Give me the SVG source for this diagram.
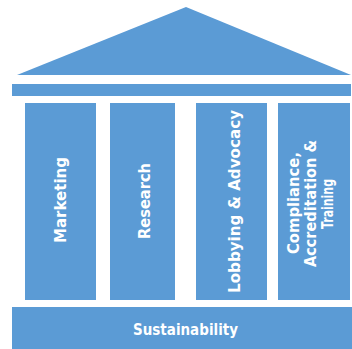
<svg xmlns="http://www.w3.org/2000/svg" width="352" height="349" viewBox="0 0 352 349">
  <style>
    .block { fill: #5b9bd5; }
    .label { fill: #ffffff; font-family: "DejaVu Sans", "Liberation Sans", sans-serif; font-weight: bold; font-size: 15px; text-anchor: middle; }
  </style>
  <rect width="352" height="349" fill="#ffffff"/>

  <!-- pediment and lintel -->
  <g id="roof">
    <polygon class="block" points="17,75 186,7 351,75"/>
  </g>
  <g id="beam">
    <rect class="block" x="12" y="84" width="339" height="12"/>
  </g>

  <!-- columns, labels read bottom to top -->
  <g id="marketing">
    <rect class="block" x="25" y="103" width="71" height="197"/>
    <text class="label" transform="translate(66,200) rotate(-90)" textLength="86" lengthAdjust="spacingAndGlyphs">Marketing</text>
  </g>
  <g id="research">
    <rect class="block" x="110" y="103" width="65" height="197"/>
    <text class="label" transform="translate(150,201) rotate(-90)" textLength="76" lengthAdjust="spacingAndGlyphs">Research</text>
  </g>
  <g id="lobbying">
    <rect class="block" x="196" y="103" width="71" height="197"/>
    <text class="label" transform="translate(239.5,201.5) rotate(-90)" textLength="183" lengthAdjust="spacingAndGlyphs">Lobbying &amp; Advocacy</text>
  </g>
  <g id="compliance">
    <rect class="block" x="278" y="103" width="72" height="197"/>
    <text class="label" transform="translate(299,203) rotate(-90)" textLength="102" lengthAdjust="spacingAndGlyphs">Compliance,</text>
    <text class="label" transform="translate(316,203.5) rotate(-90)" textLength="127" lengthAdjust="spacingAndGlyphs">Accreditation &amp;</text>
    <text class="label" transform="translate(333,204) rotate(-90)" textLength="50" lengthAdjust="spacingAndGlyphs">Training</text>
  </g>

  <!-- foundation -->
  <g id="sustainability">
    <rect class="block" x="12" y="307" width="340" height="42"/>
    <text class="label" x="185.5" y="335" textLength="105" lengthAdjust="spacingAndGlyphs">Sustainability</text>
  </g>
</svg>
